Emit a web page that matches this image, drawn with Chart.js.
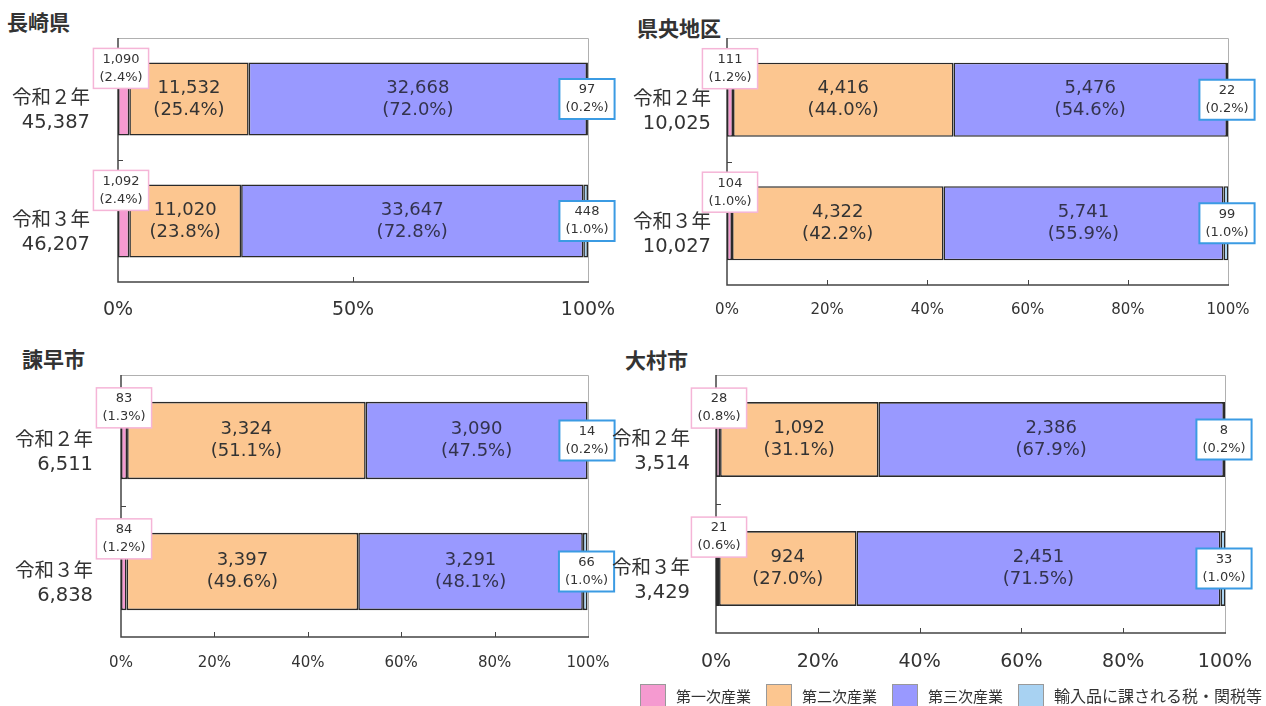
<!DOCTYPE html>
<html>
<head>
<meta charset="utf-8">
<script src="https://cdn.jsdelivr.net/npm/chart.js@4.4.0/dist/chart.umd.min.js"></script>
<style>
  body { margin: 0; background: #fff; width: 1266px; height: 706px; position: relative; overflow: hidden; color: #333; }
  .panel { position: absolute; }
  .title { position: absolute; font-family: "Noto Sans CJK JP", sans-serif; font-size: 21px; font-weight: 700; line-height: 1; color: #333; }
  .legend { position: absolute; left: 640px; top: 683px; display: flex; align-items: center; white-space: nowrap; font-family: "Noto Sans CJK JP", sans-serif; font-size: 15px; color: #333; }
  .legend span { flex-shrink: 0; }
  .legend span.box { display: inline-block; width: 24px; height: 21px; border: 1px solid #999; margin-right: 10px; }
  .legend span.txt { margin-right: 15px; }
  .legend span.txt:last-child { font-size: 16px; margin-right: 0; }
</style>
</head>
<body>
<div class="title" style="left:7px;top:11px">長崎県</div>
<div class="title" style="left:637px;top:17px">県央地区</div>
<div class="title" style="left:22px;top:348px">諫早市</div>
<div class="title" style="left:625px;top:349px">大村市</div>

<div class="panel" style="left:0px;top:30px"><canvas id="c1" width="620" height="290"></canvas></div>
<div class="panel" style="left:620px;top:30px"><canvas id="c2" width="646" height="290"></canvas></div>
<div class="panel" style="left:0px;top:360px"><canvas id="c3" width="620" height="320"></canvas></div>
<div class="panel" style="left:600px;top:360px"><canvas id="c4" width="666" height="320"></canvas></div>

<div class="legend" id="legend"></div>

<script>
const years = ["令和２年", "令和３年"];
const seriesNames = ["第一次産業", "第二次産業", "第三次産業", "輸入品に課される税・関税等"];
const colors = ["#f59ad0", "#fcc690", "#9999ff", "#a8d2f2"];

// 長崎県
const nagasakiTotals = [45387, 46207];
const nagasakiValues = [[1090, 1092], [11532, 11020], [32668, 33647], [97, 448]];
const nagasakiPct = [[2.4, 2.4], [25.4, 23.8], [72.0, 72.8], [0.2, 1.0]];

// 県央地区
const kenouTotals = [10025, 10027];
const kenouValues = [[111, 104], [4416, 4322], [5476, 5741], [22, 99]];
const kenouPct = [[1.2, 1.0], [44.0, 42.2], [54.6, 55.9], [0.2, 1.0]];

// 諫早市
const isahayaTotals = [6511, 6838];
const isahayaValues = [[83, 84], [3324, 3397], [3090, 3291], [14, 66]];
const isahayaPct = [[1.3, 1.2], [51.1, 49.6], [47.5, 48.1], [0.2, 1.0]];

// 大村市
const omuraTotals = [3514, 3429];
const omuraValues = [[28, 21], [1092, 924], [2386, 2451], [8, 33]];
const omuraPct = [[0.8, 0.6], [31.1, 27.0], [67.9, 71.5], [0.2, 1.0]];

const FONT = '"DejaVu Sans", "Noto Sans CJK JP", sans-serif';
const fmt = (n) => n.toLocaleString("en-US");

const framePlugin = {
  id: "frame",
  beforeDatasetsDraw(chart) {
    const { ctx, chartArea: a, scales } = chart;
    ctx.save();
    ctx.strokeStyle = "#b0b0b0";
    ctx.lineWidth = 1;
    ctx.beginPath();
    ctx.moveTo(a.left, a.top + 0.5);
    ctx.lineTo(a.right + 0.5, a.top + 0.5);
    ctx.lineTo(a.right + 0.5, a.bottom);
    ctx.stroke();
    ctx.strokeStyle = "#444";
    ctx.lineWidth = 1.5;
    ctx.beginPath();
    ctx.moveTo(a.left, a.top);
    ctx.lineTo(a.left, a.bottom);
    ctx.lineTo(a.right + 1, a.bottom);
    ctx.stroke();
    // small inside ticks
    ctx.lineWidth = 1;
    scales.x.ticks.forEach((t) => {
      if (t.value > 0 && t.value < 100) {
        const px = Math.round(scales.x.getPixelForValue(t.value)) + 0.5;
        ctx.beginPath();
        ctx.moveTo(px, a.bottom);
        ctx.lineTo(px, a.bottom - 5);
        ctx.stroke();
      }
    });
    const mid = Math.round((scales.y.getPixelForValue(0) + scales.y.getPixelForValue(1)) / 2) + 0.5;
    ctx.beginPath();
    ctx.moveTo(a.left, mid);
    ctx.lineTo(a.left + 5, mid);
    ctx.stroke();
    ctx.restore();
  }
};

const labelPlugin = {
  id: "segLabels",
  afterDatasetsDraw(chart) {
    const ctx = chart.ctx;
    const a = chart.chartArea;
    ctx.save();
    ctx.textAlign = "center";
    ctx.textBaseline = "middle";
    chart.data.datasets.forEach((ds, di) => {
      const meta = chart.getDatasetMeta(di);
      meta.data.forEach((bar, j) => {
        const line1 = fmt(ds.values[j]);
        const line2 = "(" + ds.data[j].toFixed(1) + "%)";
        if (di === 1 || di === 2) {
          ctx.fillStyle = di === 2 ? "#33334d" : "#333";
          ctx.font = "18px " + FONT;
          const cx = (bar.x + bar.base) / 2;
          ctx.fillText(line1, cx, bar.y - 11);
          ctx.fillText(line2, cx, bar.y + 11);
        } else {
          ctx.font = "13px " + FONT;
          const w = Math.max(ctx.measureText(line1).width, ctx.measureText(line2).width) + 12;
          const h = 40;
          let cx, top;
          if (di === 0) {
            cx = bar.base + 3;
            top = bar.y - bar.height / 2 - 14;
            ctx.strokeStyle = "#f5b5d7";
            ctx.lineWidth = 1.5;
          } else {
            cx = Math.min(bar.x, a.right) - 1;
            top = bar.y - h / 2;
            ctx.strokeStyle = "#3b9be3";
            ctx.lineWidth = 2;
          }
          ctx.fillStyle = "#fff";
          ctx.fillRect(cx - w / 2, top, w, h);
          ctx.strokeRect(cx - w / 2, top, w, h);
          ctx.fillStyle = "#333";
          ctx.fillText(line1, cx, top + h / 2 - 9);
          ctx.fillText(line2, cx, top + h / 2 + 9);
        }
      });
    });
    ctx.restore();
  }
};

function noPad(s) {
  s.paddingTop = 0;
  s.paddingBottom = 0;
  s.paddingLeft = 0;
  s.paddingRight = 0;
}

function makeChart(p) {
  const canvas = document.getElementById(p.id);
  new Chart(canvas, {
    type: "bar",
    data: {
      labels: years,
      datasets: seriesNames.map((name, i) => ({
        label: name,
        data: p.pct[i],
        values: p.values[i],
        backgroundColor: colors[i],
        borderColor: "#2a2a2a",
        borderWidth: 1.6,
        borderSkipped: false,
        barPercentage: p.bar,
        categoryPercentage: 1
      }))
    },
    options: {
      indexAxis: "y",
      responsive: false,
      animation: false,
      events: [],
      layout: { padding: { top: p.area.top, right: p.area.right, left: 0, bottom: 0 } },
      plugins: { legend: { display: false }, tooltip: { enabled: false } },
      scales: {
        x: {
          stacked: true,
          min: 0,
          max: 100,
          ticks: {
            stepSize: p.step,
            callback: (v) => v + "%",
            font: { size: p.tickSize, family: FONT },
            color: "#333",
            padding: p.tickPad,
            maxRotation: 0,
            autoSkip: false
          },
          grid: { display: false },
          border: { display: false },
          afterFit: (s) => { s.height = p.area.bottom; noPad(s); }
        },
        y: {
          stacked: true,
          ticks: {
            callback: (v, i) => ["", years[i], fmt(p.totals[i])],
            font: { size: 19.5, family: FONT, lineHeight: 1.23 },
            color: "#333",
            padding: p.yPad
          },
          grid: { display: false },
          border: { display: false },
          afterFit: (s) => { s.width = p.area.left; noPad(s); }
        }
      }
    },
    plugins: [framePlugin, labelPlugin]
  });
}

// area: left = y axis width, top/right = padding, bottom = x axis height (all in canvas px)
makeChart({ id: "c1", totals: nagasakiTotals, values: nagasakiValues, pct: nagasakiPct,
  area: { left: 118, top: 8, right: 32, bottom: 38 }, step: 50, tickSize: 19, tickPad: 9, yPad: 20, bar: 0.6 });
makeChart({ id: "c2", totals: kenouTotals, values: kenouValues, pct: kenouPct,
  area: { left: 107, top: 8, right: 38, bottom: 35 }, step: 20, tickSize: 15, tickPad: 8, yPad: 8, bar: 0.6 });
makeChart({ id: "c3", totals: isahayaTotals, values: isahayaValues, pct: isahayaPct,
  area: { left: 121, top: 15, right: 32, bottom: 43 }, step: 20, tickSize: 15, tickPad: 9, yPad: 20, bar: 0.59 });
makeChart({ id: "c4", totals: omuraTotals, values: omuraValues, pct: omuraPct,
  area: { left: 116, top: 15, right: 41, bottom: 47 }, step: 20, tickSize: 19, tickPad: 10, yPad: 18, bar: 0.58 });

const legend = document.getElementById("legend");
seriesNames.forEach((name, i) => {
  const b = document.createElement("span");
  b.className = "box";
  b.style.background = colors[i];
  const t = document.createElement("span");
  t.className = "txt";
  t.textContent = name;
  legend.appendChild(b);
  legend.appendChild(t);
});
</script>
</body>
</html>
